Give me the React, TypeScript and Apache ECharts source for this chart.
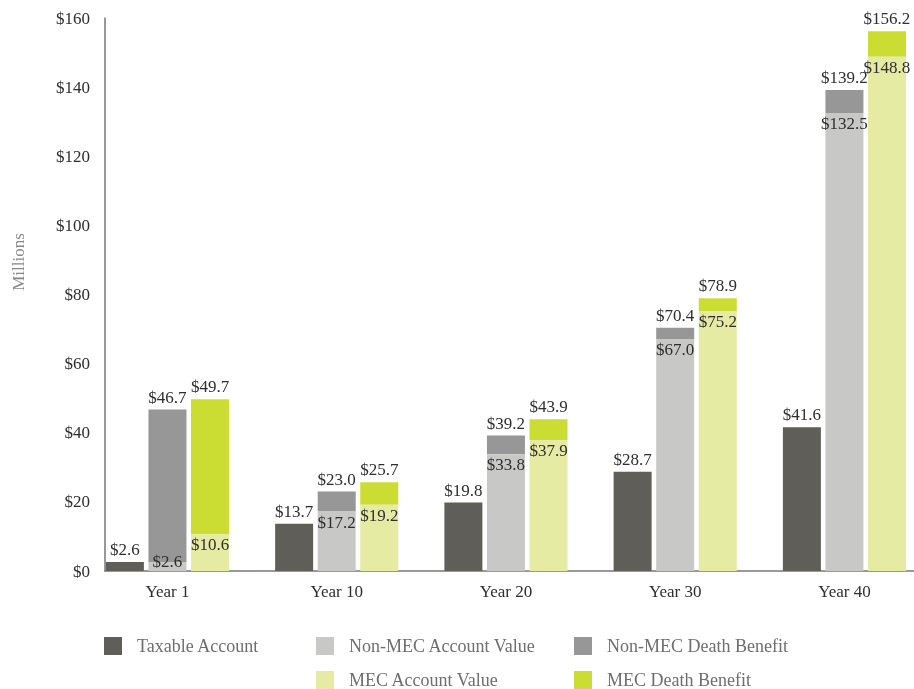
import React, { useEffect, useRef } from "react";
import * as echarts from "echarts";

const categories = ["Year 1", "Year 10", "Year 20", "Year 30", "Year 40"];
const taxable = [2.6, 13.7, 19.8, 28.7, 41.6];
const nonMecAccount = [2.6, 17.2, 33.8, 67.0, 132.5];
const nonMecDeath = [46.7, 23.0, 39.2, 70.4, 139.2];
const mecAccount = [10.6, 19.2, 37.9, 75.2, 148.8];
const mecDeath = [49.7, 25.7, 43.9, 78.9, 156.2];
const seriesNames = [
  "Taxable Account",
  "Non-MEC Account Value",
  "Non-MEC Death Benefit",
  "MEC Account Value",
  "MEC Death Benefit",
];
const colors = ["#5f5e58", "#c8c8c6", "#979797", "#e5eba3", "#cbdc33"];

const FONT = "'Liberation Serif', 'Times New Roman', serif";
const fmt = (v: number) => "$" + v.toFixed(1);

export default function App() {
  const ref = useRef<HTMLDivElement>(null);
  useEffect(() => {
    if (!ref.current) return;
    const chart = echarts.init(ref.current, null, { renderer: "svg" });
    const labelStyle = { fontFamily: FONT, fontSize: 17, color: "#2e2e2e" };

    // data items are [value, categoryIndex] so that the value dimension is stacked
    const topLabel = (totals: number[]) => ({
      show: true,
      position: "top",
      distance: 4,
      ...labelStyle,
      formatter: (p: any) => fmt(totals[p.dataIndex]),
    });

    const accountData = (arr: number[]) =>
      arr.map((v, i) =>
        v < 5
          ? { value: [v, i], label: { position: "insideBottom", distance: 1 } }
          : { value: [v, i] }
      );
    const accountLabel = {
      show: true,
      position: "insideTop",
      distance: 2,
      ...labelStyle,
      formatter: (p: any) => fmt(p.value[0]),
    };

    const common = {
      type: "bar",
      barWidth: 38,
      barGap: "12%",
      encode: { x: 1, y: 0 },
    };

    chart.setOption({
      animation: false,
      grid: { left: 105, right: 0, top: 18, bottom: 118 },
      xAxis: {
        type: "value",
        min: -0.369,
        max: 4.411,
        splitLine: { show: false },
        axisLine: { show: true, onZero: false, lineStyle: { color: "#777", width: 1.5 } },
        axisTick: { show: false },
        axisLabel: {
          customValues: [0, 1, 2, 3, 4],
          formatter: (v: number) => categories[Math.round(v)] ?? "",
          fontFamily: FONT,
          fontSize: 17,
          color: "#2e2e2e",
          margin: 12,
        },
      },
      yAxis: {
        type: "value",
        min: 0,
        max: 160,
        interval: 20,
        splitLine: { show: false },
        axisLine: { show: true, onZero: false, lineStyle: { color: "#777", width: 1.5 } },
        axisTick: { show: false },
        axisLabel: {
          formatter: (v: number) => "$" + v,
          fontFamily: FONT,
          fontSize: 17,
          color: "#2e2e2e",
          margin: 15,
          padding: [6, 0, 0, 0],
        },
      },
      graphic: [
        {
          type: "text",
          x: 18,
          y: 262,
          rotation: Math.PI / 2,
          style: {
            text: "Millions",
            fontFamily: FONT,
            fontSize: 17,
            fill: "#888",
            align: "center",
            verticalAlign: "middle",
            textAlign: "center",
            textVerticalAlign: "middle",
          },
        },
      ],
      legend: [
        { name: seriesNames[0], left: 104, top: 637 },
        { name: seriesNames[1], left: 316, top: 637 },
        { name: seriesNames[2], left: 574, top: 637 },
        { name: seriesNames[3], left: 316, top: 671 },
        { name: seriesNames[4], left: 574, top: 671 },
      ].map((l) => ({
        data: [l.name],
        left: l.left,
        top: l.top,
        icon: "rect",
        itemWidth: 18,
        itemHeight: 18,
        selectedMode: false,
        padding: 0,
        textStyle: {
          fontFamily: FONT,
          fontSize: 18,
          color: "#6e6e6e",
          padding: [0, 0, 0, 10],
        },
      })),
      series: [
        {
          ...common,
          name: seriesNames[0],
          stack: "tax",
          itemStyle: { color: colors[0] },
          data: taxable.map((v, i) => [v, i]),
          label: { show: true, position: "top", distance: 4, ...labelStyle, formatter: (p: any) => fmt(p.value[0]) },
        },
        {
          ...common,
          name: seriesNames[1],
          stack: "non",
          itemStyle: { color: colors[1] },
          data: accountData(nonMecAccount),
          label: accountLabel,
          z: 3,
        },
        {
          ...common,
          name: seriesNames[2],
          stack: "non",
          itemStyle: { color: colors[2] },
          data: nonMecDeath.map((v, i) => [+(v - nonMecAccount[i]).toFixed(1), i]),
          label: topLabel(nonMecDeath),
        },
        {
          ...common,
          name: seriesNames[3],
          stack: "mec",
          itemStyle: { color: colors[3] },
          data: accountData(mecAccount),
          label: accountLabel,
          z: 3,
        },
        {
          ...common,
          name: seriesNames[4],
          stack: "mec",
          itemStyle: { color: colors[4] },
          data: mecDeath.map((v, i) => [+(v - mecAccount[i]).toFixed(1), i]),
          label: topLabel(mecDeath),
        },
      ],
    });
    return () => chart.dispose();
  }, []);
  return (
    <div
      ref={ref}
      style={{ position: "fixed", left: 0, top: 0, width: 914, height: 689 }}
    />
  );
}
